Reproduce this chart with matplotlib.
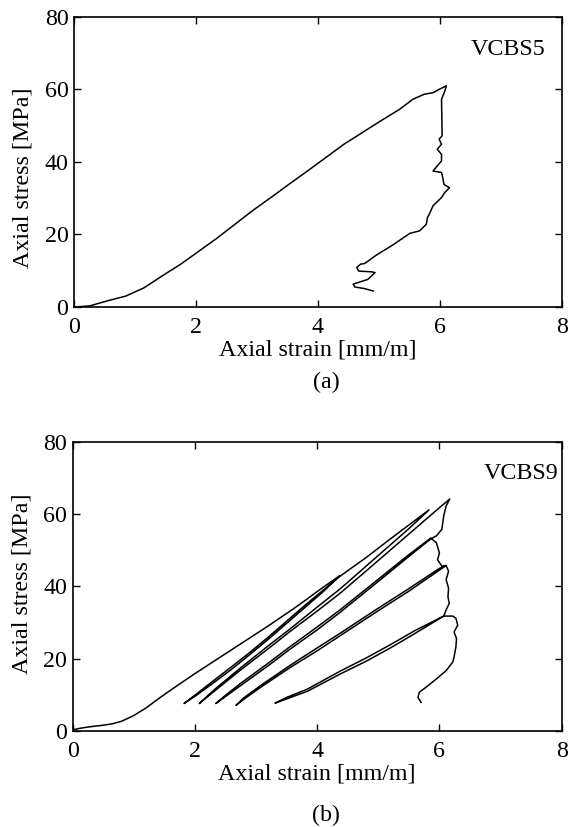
import matplotlib.pyplot as plt

plt.rcParams['font.family'] = ['Liberation Serif', 'DejaVu Serif']

# (a) VCBS5 - monotonic test, strain [mm/m] / stress [MPa]
strain_a = [0.0, 0.10, 0.26, 0.55, 0.85, 1.15, 1.45, 1.75, 2.05, 2.34, 2.64, 2.94, 3.24,
            3.54, 3.83, 4.13, 4.43, 4.73, 5.03, 5.34, 5.56, 5.75, 5.89, 6.00, 6.11,
            6.08, 6.03, 6.04, 5.99, 6.03, 5.96, 6.03, 6.03, 5.89, 6.03, 6.05, 6.07,
            6.16, 6.08, 6.03, 5.89, 5.84, 5.80, 5.78, 5.67, 5.51, 5.23, 4.96, 4.77,
            4.70, 4.64, 4.67, 4.88, 4.94, 4.82, 4.58, 4.61, 4.76, 4.91]
stress_a = [0.0, 0.1, 0.3, 1.7, 3.0, 5.3, 8.6, 11.8, 15.4, 18.9, 22.8, 26.7, 30.3,
            34.0, 37.5, 41.2, 44.9, 48.1, 51.3, 54.5, 57.3, 58.7, 59.1, 60.1, 61.0,
            59.4, 57.3, 47.2, 46.3, 44.9, 43.5, 42.1, 40.3, 37.5, 37.1, 35.7, 33.8,
            32.9, 31.5, 30.2, 27.9, 26.0, 24.7, 22.8, 21.0, 20.3, 17.1, 14.3, 12.0,
            11.8, 10.9, 9.9, 9.7, 9.5, 7.6, 6.3, 5.5, 5.1, 4.4]

# (b) VCBS9 - cyclic test
strain_b = [0.0, 0.10, 0.25, 0.50, 0.65, 0.80, 1.00, 1.20, 1.40, 1.60, 1.80, 2.00, 2.20,
            2.40, 2.60, 2.80, 3.00, 3.20, 3.40, 3.60, 3.80, 4.00, 4.20, 4.37,
            # loop 1
            4.10, 3.80, 3.50, 3.20, 2.90, 2.60, 2.30, 2.05, 1.82,
            2.05, 2.30, 2.60, 2.90, 3.20, 3.50, 3.80, 4.10, 4.37, 4.80, 5.20, 5.50, 5.83,
            # loop 2
            5.50, 5.00, 4.38, 4.00, 3.56, 3.20, 2.74, 2.30, 2.07,
            2.30, 2.74, 3.20, 3.56, 4.00, 4.38, 5.00, 5.50, 5.83, 6.00, 6.17,
            # post peak
            6.11, 6.07, 6.04, 5.95, 5.86,
            # loop 3
            5.50, 5.00, 4.38, 4.00, 3.56, 3.20, 2.74, 2.50, 2.34,
            2.50, 2.74, 3.20, 3.56, 4.00, 4.38, 5.00, 5.50, 5.86,
            5.95, 6.00, 5.97, 6.04, 6.11,
            # loop 4
            5.50, 5.00, 4.38, 4.00, 3.56, 3.10, 2.80, 2.67,
            2.80, 3.10, 3.56, 4.00, 4.38, 5.00, 5.50, 6.00, 6.11,
            6.15, 6.11, 6.15, 6.14, 6.16, 6.11, 6.07,
            # loop 5
            5.60, 5.20, 4.80, 4.38, 3.84, 3.50, 3.31,
            3.50, 3.84, 4.38, 4.80, 5.20, 5.60, 6.07,
            # softening tail
            6.22, 6.27, 6.30, 6.24, 6.28, 6.27, 6.24, 6.22, 6.11, 5.95, 5.78, 5.67,
            5.65, 5.70]
stress_b = [0.3, 0.7, 1.1, 1.6, 2.0, 2.7, 4.3, 6.4, 8.9, 11.3, 13.6, 15.9, 18.1,
            20.3, 22.5, 24.7, 26.9, 29.1, 31.4, 33.7, 36.1, 38.6, 41.0, 43.0,
            38.6, 34.2, 29.8, 25.4, 21.2, 17.1, 13.3, 10.2, 7.6,
            10.6, 13.9, 17.8, 21.8, 26.0, 30.4, 34.8, 39.0, 42.8, 48.0, 53.2, 57.0, 61.2,
            56.0, 48.6, 39.4, 34.3, 28.3, 23.6, 17.4, 11.2, 7.6,
            10.8, 16.8, 22.8, 27.6, 33.2, 38.2, 47.2, 54.5, 59.3, 61.8, 64.2,
            62.3, 59.5, 55.8, 54.0, 53.2,
            48.3, 41.4, 32.9, 28.0, 22.7, 18.1, 12.5, 9.6, 7.6,
            9.9, 13.1, 18.8, 23.4, 28.8, 33.6, 42.0, 48.8, 53.4,
            52.1, 49.3, 47.4, 45.6, 45.8,
            38.7, 33.3, 26.4, 22.2, 17.6, 12.4, 8.8, 7.1,
            9.2, 12.9, 18.2, 23.0, 27.1, 34.0, 39.4, 45.0, 45.8,
            44.2, 41.9, 39.5, 37.2, 35.3, 33.5, 31.8,
            27.0, 23.0, 19.3, 15.8, 11.0, 8.9, 7.7,
            9.3, 11.6, 16.6, 20.2, 23.9, 27.8, 31.8,
            31.8, 31.2, 29.3, 27.4, 25.6, 23.3, 20.5, 19.1, 16.7, 14.4, 12.1, 10.7,
            9.3, 7.9]

fig = plt.figure(figsize=(5.69, 8.27), dpi=100)
ax_a = fig.add_axes([0.130, 0.6288, 0.857, 0.3507])
ax_b = fig.add_axes([0.128, 0.1161, 0.859, 0.3495])

fs = 17.3
panels = [(ax_a, strain_a, stress_a, 'VCBS5', 7.73, 70.9, 0.445, 0.537, '(a)'),
          (ax_b, strain_b, stress_b, 'VCBS9', 7.95, 71.4, 0.51, 0.014, '(b)')]

for ax, x, y, name, tx, ty, ly, fy, tag in panels:
    ax.plot(x, y, color='black', lw=1.1)
    ax.set_xlim(0, 8)
    ax.set_ylim(0, 80)
    ax.set_xticks([0, 2, 4, 6, 8])
    ax.set_yticks([0, 20, 40, 60, 80])
    ax.tick_params(direction='in', top=True, right=True, length=5, width=1,
                   labelsize=fs, colors='black')
    ax.tick_params(axis='x', pad=7.5)
    ax.tick_params(axis='y', pad=4)
    for s in ax.spines.values():
        s.set_linewidth(1.2)
    ax.set_xlabel('Axial strain [mm/m]', fontsize=fs, labelpad=1)
    ax.set_ylabel('Axial stress [MPa]', fontsize=fs)
    ax.yaxis.set_label_coords(-0.082, ly)
    ax.text(tx, ty, name, ha='right', va='center', fontsize=fs)
    fig.text(0.573, fy, tag, ha='center', va='center', fontsize=fs)

fig.savefig('out.png', dpi=100)
